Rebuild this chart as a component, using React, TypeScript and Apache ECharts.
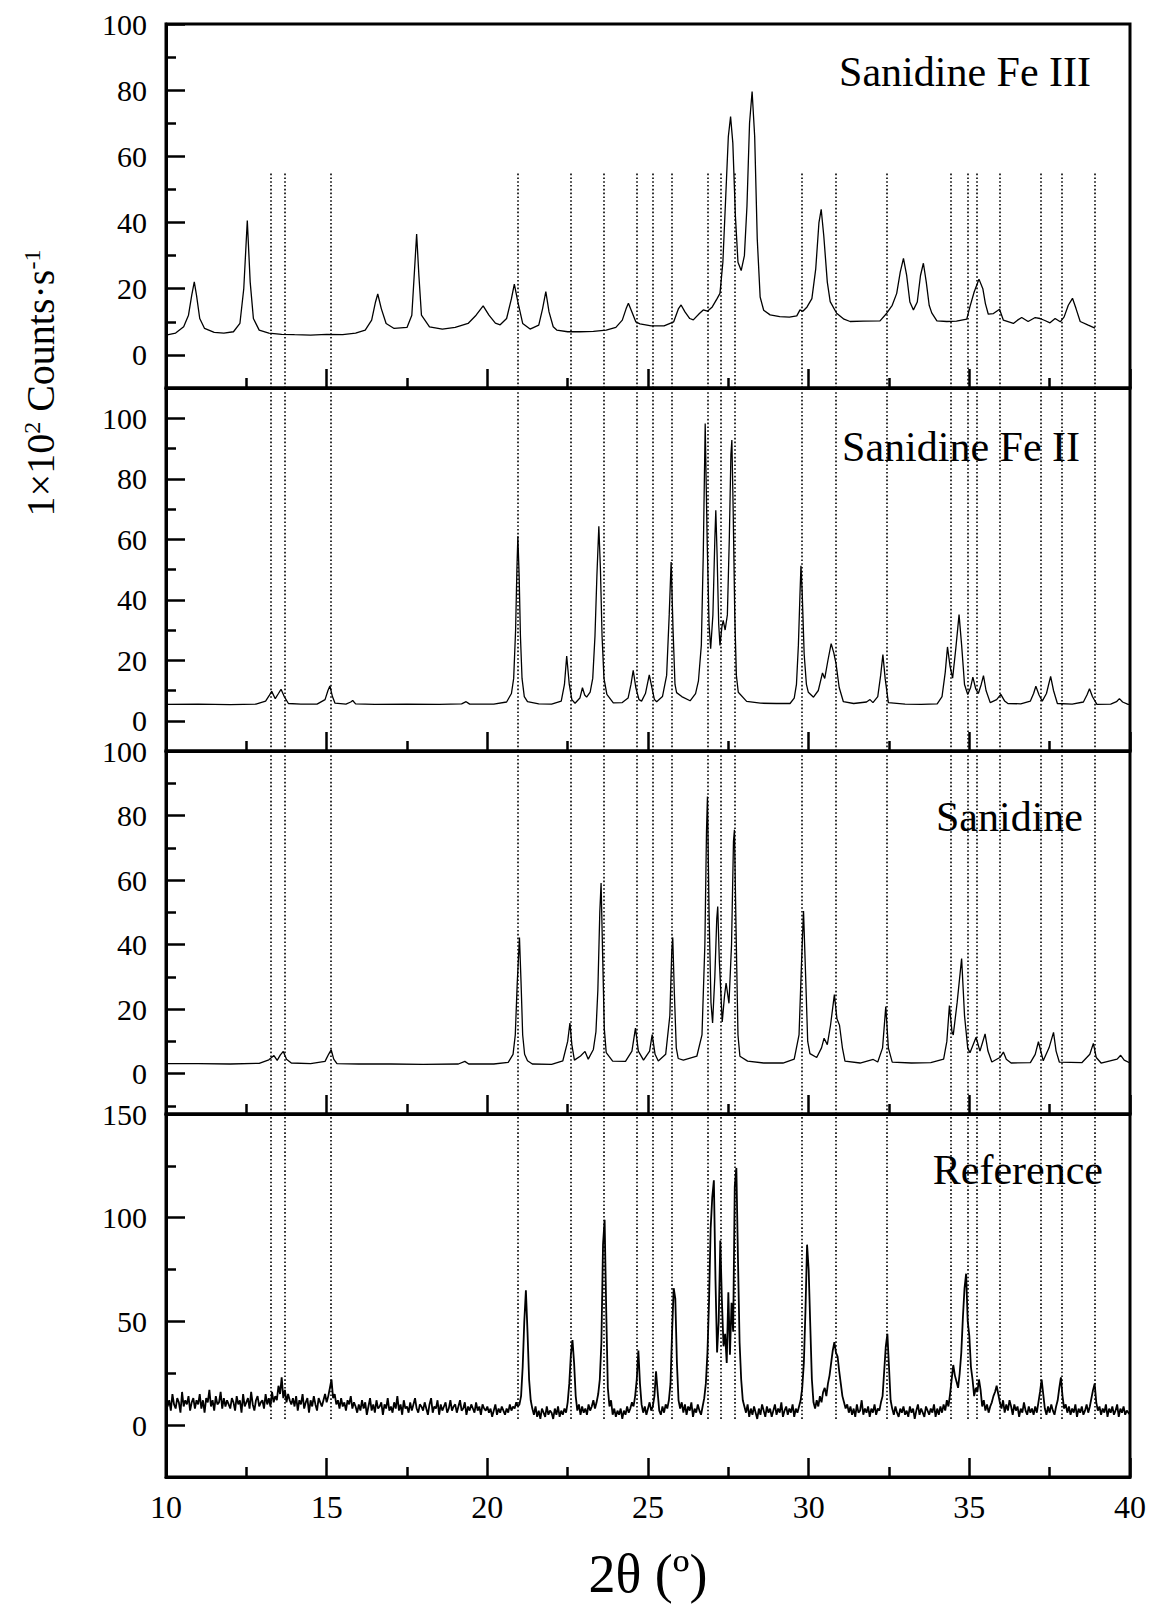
import React, { useEffect, useRef } from "react";
import * as echarts from "echarts";

const FONT = "'Liberation Serif', 'Times New Roman', serif";

const X_MIN = 10;
const X_MAX = 40;
const X_TICKS_INTERVAL = 5;

// Positions (2θ) of the dotted reference lines
const GUIDE_POSITIONS = [
  13.27, 13.68, 15.13, 20.95, 22.6, 23.61, 24.66, 25.14, 25.75, 26.85, 27.26,
  27.71, 29.78, 30.85, 32.43, 34.43, 34.94, 35.23, 35.96, 37.23, 37.88, 38.89,
];

const PANEL_LABELS = ["Sanidine Fe III", "Sanidine Fe II", "Sanidine", "Reference"];

const Y_MAJOR_1 = [0, 20, 40, 60, 80, 100];
const Y_MINOR_1 = [-10, 10, 30, 50, 70, 90];
const Y_MAJOR_2 = [0, 20, 40, 60, 80, 100];
const Y_MINOR_2 = [-10, 10, 30, 50, 70, 90, 110];
const Y_MAJOR_3 = [0, 20, 40, 60, 80, 100];
const Y_MINOR_3 = [-10, 10, 30, 50, 70, 90];
const Y_MAJOR_4 = [0, 50, 100, 150];
const Y_MINOR_4 = [-25, 25, 75, 125];

// Sanidine Fe III pattern [2θ, counts]
const FE3: [number, number][] = [
  [10.0, 6.0], [10.3, 6.6], [10.55, 8.5], [10.7, 12], [10.8, 18], [10.88, 22.1], [10.95, 18],
  [11.05, 11], [11.2, 8], [11.5, 6.8], [11.8, 6.6], [12.1, 7.0], [12.3, 9.5], [12.42, 20],
  [12.53, 40.6], [12.62, 22], [12.72, 11], [12.9, 7.5], [13.2, 6.6], [13.6, 6.2], [14.0, 6.1],
  [14.5, 6.0], [15.0, 6.2], [15.5, 6.1], [15.9, 6.6], [16.2, 7.5], [16.4, 10.5], [16.52, 16],
  [16.59, 18.4], [16.7, 14], [16.85, 9.5], [17.1, 8], [17.5, 8.3], [17.65, 12], [17.73, 25],
  [17.8, 36.5], [17.87, 24], [17.95, 12], [18.2, 8.5], [18.6, 7.8], [19.0, 8.3], [19.4, 9.5],
  [19.65, 12], [19.87, 14.8], [20.05, 12], [20.25, 9.6], [20.4, 9.1], [20.6, 11], [20.75, 17],
  [20.84, 21.4], [20.95, 16], [21.1, 9.5], [21.33, 7.8], [21.6, 9], [21.72, 14], [21.82, 19.1],
  [21.92, 13], [22.05, 8.5], [22.16, 7.5], [22.5, 7.0], [22.88, 7.0], [23.3, 7.1], [23.7, 7.5],
  [24.0, 8.3], [24.2, 10.5], [24.32, 14], [24.39, 15.6], [24.5, 13], [24.62, 10], [24.75, 9.4],
  [25.1, 8.8], [25.5, 8.8], [25.8, 10], [25.95, 14], [26.03, 15.1], [26.15, 13], [26.3, 11],
  [26.41, 10.6], [26.6, 12.5], [26.72, 13.6], [26.85, 13.2], [27.0, 14.5], [27.15, 17],
  [27.24, 18.6], [27.33, 28], [27.42, 48], [27.5, 66], [27.57, 72], [27.64, 64], [27.72, 42],
  [27.8, 28], [27.9, 25.5], [28.0, 30], [28.08, 45], [28.16, 70], [28.24, 79.6], [28.32, 66],
  [28.4, 35], [28.49, 17.5], [28.6, 13.5], [28.8, 12.1], [29.1, 11.6], [29.4, 11.4],
  [29.63, 11.8], [29.73, 13.6], [29.82, 13.2], [29.95, 14.5], [30.1, 17], [30.22, 26],
  [30.32, 40], [30.39, 44], [30.47, 36], [30.58, 22], [30.67, 16.1], [30.87, 12.6], [31.1, 10.8],
  [31.29, 10.1], [31.7, 10.2], [32.22, 10.3], [32.43, 12.6], [32.6, 15], [32.74, 18.6],
  [32.85, 25], [32.95, 29.2], [33.05, 24], [33.15, 16], [33.26, 13.6], [33.38, 16], [33.48, 24],
  [33.57, 27.7], [33.66, 22], [33.75, 15], [33.83, 12.7], [33.99, 10.3], [34.3, 10.1],
  [34.6, 10.2], [34.92, 10.8], [35.02, 14.6], [35.15, 19], [35.3, 22.9], [35.42, 20],
  [35.5, 15.5], [35.59, 12.3], [35.75, 12.5], [35.94, 13.8], [36.06, 10.5], [36.37, 9.5],
  [36.5, 10.5], [36.63, 11.3], [36.83, 10.1], [37.05, 11.3], [37.2, 11], [37.35, 10.4],
  [37.51, 9.7], [37.67, 11], [37.83, 10], [37.95, 11.5], [38.08, 15], [38.21, 17.1],
  [38.32, 14], [38.45, 10.1], [38.7, 9], [38.91, 8.1],
];

// Sanidine Fe II pattern
const FE2: [number, number][] = [
  [10.0, 5.4], [11.0, 5.5], [12.0, 5.3], [12.8, 5.5], [13.1, 6.5], [13.22, 8.5], [13.29, 9.7],
  [13.4, 7.3], [13.5, 9], [13.58, 10.4], [13.68, 8], [13.81, 5.7], [14.2, 5.5], [14.7, 5.5],
  [14.95, 7], [15.04, 10], [15.1, 11.5], [15.18, 8], [15.26, 5.8], [15.6, 5.5], [15.75, 6.2],
  [15.81, 6.7], [15.9, 5.6], [16.5, 5.4], [17.5, 5.5], [18.5, 5.4], [19.2, 5.6], [19.34, 6.3],
  [19.45, 5.5], [20.2, 5.5], [20.6, 6.2], [20.75, 9], [20.82, 14], [20.88, 30], [20.92, 50], [20.95, 61],
  [20.99, 48], [21.03, 28], [21.08, 14], [21.15, 8], [21.25, 6.3], [21.6, 5.6], [22.0, 5.5], [22.3, 6.5],
  [22.4, 12], [22.47, 21.4], [22.55, 12], [22.63, 7], [22.73, 5.8], [22.88, 7.5], [22.96, 10.9],
  [23.03, 8.5], [23.09, 7.8], [23.2, 9.5], [23.28, 14], [23.35, 28], [23.41, 48], [23.47, 64.3], [23.52, 50],
  [23.57, 28], [23.63, 14], [23.72, 8.7], [23.92, 5.9], [24.2, 6], [24.38, 7.5], [24.47, 12], [24.54, 16.7],
  [24.62, 11], [24.72, 7], [24.8, 6.5], [24.92, 9], [25.04, 15.2], [25.12, 11], [25.2, 7],
  [25.27, 6.3], [25.45, 8], [25.58, 15], [25.66, 35], [25.72, 52.5], [25.78, 30], [25.84, 12],
  [25.89, 9.3], [26.05, 8], [26.31, 6.6], [26.48, 9], [26.57, 13.2], [26.66, 25], [26.72, 55],
  [26.78, 98.3], [26.84, 60], [26.9, 32], [26.95, 23.8], [27.02, 35], [27.08, 60], [27.11, 69.6],
  [27.15, 55], [27.2, 32], [27.24, 24.9], [27.3, 31], [27.34, 33.2], [27.4, 30], [27.47, 35],
  [27.53, 60], [27.58, 88], [27.61, 92.8], [27.65, 70], [27.7, 35], [27.75, 15], [27.81, 9.4],
  [28.07, 6.4], [28.5, 5.8], [29.0, 5.7], [29.42, 5.7], [29.55, 7.5], [29.62, 12], [29.68, 25],
  [29.73, 42], [29.76, 51.2], [29.8, 42], [29.86, 22], [29.93, 12], [29.99, 9.4], [30.15, 7.8],
  [30.3, 10], [30.43, 15.8], [30.5, 14], [30.6, 20], [30.7, 25.5], [30.78, 22.5], [30.85, 19],
  [30.95, 11], [31.08, 6.3], [31.4, 5.7], [31.8, 6.2], [31.91, 7], [32.0, 6], [32.15, 8],
  [32.24, 15], [32.31, 21.9], [32.38, 14], [32.48, 6], [33.0, 5.5], [33.5, 5.4], [34.0, 5.6],
  [34.15, 8], [34.25, 16], [34.32, 24.4], [34.4, 18], [34.48, 14.1], [34.58, 24], [34.68, 35.1],
  [34.76, 25], [34.85, 12], [34.95, 8.7], [35.04, 11], [35.11, 14.4], [35.2, 10.5], [35.28, 9],
  [35.37, 12], [35.44, 14.9], [35.52, 10], [35.65, 6], [35.85, 7], [35.98, 8.7], [36.1, 6.5],
  [36.2, 5.7], [36.6, 5.6], [36.9, 6.5], [37.0, 9], [37.07, 11.4], [37.17, 8.5], [37.27, 6.5],
  [37.4, 9], [37.53, 14.7], [37.62, 10], [37.74, 5.7], [38.2, 5.5], [38.55, 6.2], [38.66, 8.5],
  [38.74, 10.6], [38.83, 8], [38.97, 5.4], [39.4, 5.5], [39.58, 6.3], [39.67, 7.3], [39.77, 6.2],
  [39.94, 5.4], [40.0, 5.4],
];

// Sanidine pattern
const SAN: [number, number][] = [
  [10, 3.1], [11, 3.1], [12, 3.0], [12.9, 3.2], [13.2, 4.3], [13.36, 5.6], [13.46, 4.1],
  [13.56, 5.8], [13.65, 6.9], [13.75, 4.5], [13.9, 3.3], [14.5, 3.1], [14.95, 3.8], [15.06, 6],
  [15.14, 7.4], [15.22, 4.5], [15.32, 3.1], [16, 3], [17, 3], [18, 2.9], [19.1, 3.0], [19.3, 3.8],
  [19.42, 3.0], [20.2, 3.0], [20.65, 3.5], [20.8, 6], [20.87, 12], [20.93, 28], [21.0, 42.2], [21.05, 28],
  [21.1, 12], [21.16, 6], [21.25, 4], [21.4, 3], [22, 2.9], [22.35, 4], [22.5, 10], [22.57, 15.7], [22.63, 9],
  [22.71, 4.2], [22.9, 5.5], [23.04, 6.9], [23.14, 4.5], [23.3, 7.5], [23.38, 13], [23.44, 26], [23.5, 50],
  [23.54, 59.1], [23.59, 36], [23.64, 14], [23.7, 6.5], [23.9, 3.9], [24.3, 3.8], [24.5, 7],
  [24.61, 14.1], [24.7, 7], [24.86, 4.2], [25.05, 7], [25.13, 12.1], [25.22, 6], [25.32, 3.9],
  [25.55, 6], [25.68, 18], [25.74, 38], [25.77, 42.2], [25.82, 25], [25.88, 8], [25.94, 4.7],
  [26.1, 4.2], [26.52, 5.4], [26.68, 12], [26.77, 40], [26.82, 75], [26.85, 85.9], [26.9, 50],
  [26.96, 22], [27.01, 15.7], [27.08, 30], [27.14, 48], [27.17, 51.8], [27.22, 35], [27.31, 16],
  [27.38, 24], [27.43, 28.1], [27.52, 21.8], [27.6, 40], [27.66, 72], [27.69, 75.6], [27.74, 45],
  [27.8, 12], [27.86, 5.4], [28.1, 3.9], [28.6, 3.3], [29.2, 3.3], [29.55, 4.5], [29.7, 12],
  [29.78, 35], [29.84, 50.4], [29.9, 32], [29.97, 10], [30.04, 6.2], [30.25, 5], [30.4, 8],
  [30.48, 11], [30.58, 9], [30.68, 15], [30.8, 24.5], [30.88, 17], [30.96, 15], [31.05, 8],
  [31.13, 3.9], [31.6, 3.3], [32.01, 4.4], [32.15, 3.6], [32.3, 8], [32.4, 20.8], [32.48, 8],
  [32.6, 3.6], [33.2, 3.3], [33.8, 3.4], [34.2, 4.5], [34.3, 10], [34.38, 21.1], [34.46, 13],
  [34.5, 12], [34.62, 22], [34.76, 35.7], [34.85, 18], [34.95, 8], [35.02, 6.5], [35.21, 11.3],
  [35.33, 7], [35.49, 12.3], [35.58, 7], [35.7, 3.6], [35.95, 5], [36.06, 6.7], [36.15, 4.5],
  [36.3, 3.3], [36.9, 3.4], [37.05, 6], [37.15, 9.9], [37.3, 4], [37.48, 8], [37.62, 12.8],
  [37.7, 7], [37.8, 3.6], [38.5, 3.4], [38.75, 6], [38.86, 9.4], [38.95, 5], [39.1, 3.3],
  [39.6, 4.5], [39.71, 5.7], [39.82, 4.2], [40, 3.3],
];

// Reference pattern: counts read every 0.05° from 10° to 40°
const REF_START = 10;
const REF_STEP = 0.05;
const REF_COUNTS = [
  14, 9, 12, 7, 15, 10, 8, 13, 11, 6, 16, 9, 12, 10, 14, 7, 11, 13, 8, 12,
  10, 15, 8, 12, 6, 13, 11, 17, 9, 12, 7, 14, 10, 11, 16, 8, 13, 9, 12, 10,
  8, 13, 11, 7, 14, 10, 12, 6, 15, 9, 11, 13, 8, 16, 10, 7, 12, 14, 9, 11,
  12, 8, 15, 10, 13, 9, 16, 11, 14, 12, 19, 15, 23, 13, 17, 11, 15, 12, 10, 13,
  9, 14, 7, 12, 10, 15, 8, 11, 13, 6, 12, 9, 14, 10, 7, 13, 11, 9, 12, 15,
  11, 14, 18, 22, 13, 15, 10, 12, 8, 13, 9, 11, 7, 12, 10, 14, 8, 11, 9, 6,
  10, 7, 12, 8, 11, 5, 9, 13, 7, 10, 6, 12, 8, 9, 11, 5, 10, 8, 13, 7,
  9, 6, 11, 8, 14, 7, 10, 5, 12, 8, 9, 6, 11, 7, 10, 13, 8, 6, 10, 9,
  7, 11, 8, 5, 10, 13, 6, 9, 8, 12, 5, 10, 7, 9, 11, 6, 8, 12, 7, 9,
  10, 6, 9, 12, 7, 8, 11, 5, 9, 7, 10, 8, 6, 11, 7, 9, 5, 10, 8, 7,
  9, 6, 8, 4, 7, 10, 5, 8, 6, 9, 7, 5, 8, 6, 10, 7, 9, 8, 11, 9,
  10, 14, 28, 50, 65, 45, 22, 12, 8, 5, 9, 4, 7, 3, 8, 6, 4, 9, 5, 7,
  6, 3, 8, 5, 9, 4, 7, 5, 8, 6, 11, 20, 34, 41, 30, 14, 7, 10, 5, 9,
  6, 8, 5, 10, 7, 9, 12, 8, 11, 15, 22, 40, 87, 99, 55, 18, 9, 12, 5, 8,
  4, 7, 5, 8, 3, 7, 5, 9, 6, 8, 11, 9, 14, 22, 36, 20, 10, 6, 9, 5,
  8, 11, 7, 9, 14, 26, 16, 7, 5, 9, 6, 10, 8, 12, 20, 45, 66, 61, 30, 12,
  8, 11, 6, 10, 5, 9, 7, 11, 4, 8, 6, 10, 7, 5, 9, 13, 20, 35, 60, 95,
  110, 118, 70, 35, 50, 89, 60, 38, 44, 30, 64, 34, 59, 45, 115, 124, 80, 40, 22, 12,
  9, 6, 10, 4, 8, 5, 9, 6, 3, 8, 5, 10, 7, 4, 9, 6, 8, 4, 7, 10,
  5, 8, 6, 11, 4, 7, 9, 5, 8, 6, 10, 4, 8, 6, 9, 12, 18, 30, 55, 87,
  75, 48, 22, 11, 8, 12, 9, 14, 11, 16, 18, 14, 20, 24, 30, 36, 40, 35, 33, 26,
  20, 14, 11, 8, 10, 6, 9, 5, 8, 4, 10, 6, 7, 12, 5, 8, 6, 9, 4, 8,
  6, 10, 5, 8, 7, 11, 14, 26, 38, 44, 28, 12, 8, 5, 9, 6, 4, 8, 6, 9,
  5, 7, 4, 9, 6, 8, 3, 7, 10, 5, 8, 6, 4, 9, 7, 5, 8, 6, 10, 4,
  8, 5, 9, 6, 10, 7, 12, 9, 15, 22, 29, 24, 21, 18, 25, 35, 52, 66, 73, 50,
  43, 28, 22, 14, 18, 16, 22, 17, 9, 12, 7, 10, 6, 9, 11, 14, 16, 19, 15, 11,
  8, 12, 6, 10, 7, 12, 9, 5, 10, 7, 9, 4, 8, 6, 11, 7, 5, 9, 6, 8,
  5, 9, 6, 11, 16, 22, 15, 8, 5, 9, 6, 10, 7, 5, 9, 12, 18, 23, 14, 8,
  10, 6, 9, 5, 8, 6, 10, 4, 8, 6, 9, 5, 7, 10, 6, 9, 13, 17, 20, 11,
  7, 9, 5, 8, 6, 10, 4, 8, 6, 9, 5, 7, 10, 4, 8, 6, 9, 5, 7, 6,
  5,
];

const REF: [number, number][] = REF_COUNTS.map((v, i) => [
  +(REF_START + i * REF_STEP).toFixed(2),
  v,
]);

type Panel = {
  top: number;
  height: number;
  min: number;
  max: number;
  major: number[];
  minor: number[];
  data: [number, number][];
  lineWidth: number;
  guideLo: number;
  guideHi: number;
  label: string;
  labelX: number;
  labelY: number;
};

const PANELS: Panel[] = [
  { top: 24, height: 364, min: -10, max: 100, major: Y_MAJOR_1, minor: Y_MINOR_1, data: FE3, lineWidth: 1.3, guideLo: -10, guideHi: 55, label: PANEL_LABELS[0], labelX: 1091, labelY: 72 },
  { top: 388, height: 363, min: -10, max: 110, major: Y_MAJOR_2, minor: Y_MINOR_2, data: FE2, lineWidth: 1.3, guideLo: -10, guideHi: 110, label: PANEL_LABELS[1], labelX: 1080, labelY: 447 },
  { top: 751, height: 363, min: -12.5, max: 100, major: Y_MAJOR_3, minor: Y_MINOR_3, data: SAN, lineWidth: 1.3, guideLo: -12.5, guideHi: 100, label: PANEL_LABELS[2], labelX: 1083, labelY: 817 },
  { top: 1114, height: 363, min: -25, max: 150, major: Y_MAJOR_4, minor: Y_MINOR_4, data: REF, lineWidth: 1.8, guideLo: 3, guideHi: 150, label: PANEL_LABELS[3], labelX: 1103, labelY: 1170 },
];

const LEFT = 166;
const WIDTH = 964;

export default function App() {
  const ref = useRef<HTMLDivElement>(null);

  useEffect(() => {
    document.body.style.margin = "0";
    const chart = echarts.init(ref.current!, null, { renderer: "svg" });

    const grid: any[] = [];
    const xAxis: any[] = [];
    const yAxis: any[] = [];
    const series: any[] = [];
    const graphic: any[] = [];

    PANELS.forEach((p, i) => {
      const isLast = i === PANELS.length - 1;
      grid.push({
        left: LEFT,
        width: WIDTH,
        top: p.top,
        height: p.height,
        show: true,
        borderColor: "#000",
        borderWidth: 3,
        backgroundColor: "transparent",
        containLabel: false,
      });
      xAxis.push({
        gridIndex: i,
        type: "value",
        min: X_MIN,
        max: X_MAX,
        interval: X_TICKS_INTERVAL,
        axisLine: { show: true, onZero: false, lineStyle: { color: "#000", width: 3 } },
        axisTick: { show: true, inside: true, length: 19, lineStyle: { color: "#000", width: 2.5 } },
        minorTick: { show: true, splitNumber: 2, length: 10, lineStyle: { color: "#000", width: 2.5 } },
        axisLabel: {
          show: isLast,
          fontSize: 32,
          fontFamily: FONT,
          color: "#000",
          margin: 14,
        },
        splitLine: { show: false },
        minorSplitLine: { show: false },
      });
      yAxis.push({
        gridIndex: i,
        type: "value",
        position: "left",
        min: p.min,
        max: p.max,
        axisLine: { show: true, onZero: false, lineStyle: { color: "#000", width: 3 } },
        axisTick: {
          show: true,
          inside: true,
          length: 19,
          customValues: p.major,
          lineStyle: { color: "#000", width: 2.5 },
        },
        axisLabel: {
          show: true,
          customValues: p.major,
          fontSize: 30,
          lineHeight: 24,
          fontFamily: FONT,
          color: "#000",
          margin: 19,
        },
        splitLine: { show: false },
      });
      yAxis.push({
        gridIndex: i,
        type: "value",
        position: "left",
        min: p.min,
        max: p.max,
        axisLine: { show: false },
        axisTick: {
          show: true,
          inside: true,
          length: 10,
          customValues: p.minor,
          lineStyle: { color: "#000", width: 2.5 },
        },
        axisLabel: { show: false },
        splitLine: { show: false },
      });

      series.push({
        type: "line",
        name: p.label,
        xAxisIndex: i,
        yAxisIndex: 2 * i,
        data: p.data,
        showSymbol: false,
        symbol: "none",
        smooth: false,
        clip: true,
        lineStyle: { color: "#000", width: p.lineWidth },
        z: 3,
        markLine: {
          silent: true,
          symbol: ["none", "none"],
          label: { show: false },
          animation: false,
          lineStyle: { color: "#000", width: 1.6, type: [1.6, 2.2] },
          emphasis: { disabled: true },
          data: GUIDE_POSITIONS.map((g) => [
            { coord: [g, p.guideLo] },
            { coord: [g, p.guideHi] },
          ]),
        },
      });

      graphic.push({
        type: "text",
        x: p.labelX,
        y: p.labelY,
        style: {
          text: p.label,
          fontSize: 42,
          fontFamily: FONT,
          fill: "#000",
          align: "right",
          verticalAlign: "middle",
        },
        z: 10,
      });
    });

    graphic.push({
      type: "text",
      x: 648,
      y: 1574,
      style: {
        text: "2θ (º)",
        fontSize: 54,
        lineHeight: 50,
        fontFamily: FONT,
        fill: "#000",
        align: "center",
        verticalAlign: "middle",
      },
    });

    graphic.push({
      type: "text",
      x: 40,
      y: 383,
      rotation: Math.PI / 2,
      style: {
        text: "{m|1×10}{s|2}{m| Counts·s}{s|-1}",
        align: "center",
        verticalAlign: "middle",
        fill: "#000",
        rich: {
          m: { fontSize: 40, fontFamily: FONT, fill: "#000" },
          s: { fontSize: 24, fontFamily: FONT, fill: "#000", verticalAlign: "top" },
        },
      },
    });

    chart.setOption({
      animation: false,
      backgroundColor: "#fff",
      grid,
      xAxis,
      yAxis,
      series,
      graphic,
    });

    return () => chart.dispose();
  }, []);

  return <div ref={ref} style={{ width: 1155, height: 1605 }} />;
}
